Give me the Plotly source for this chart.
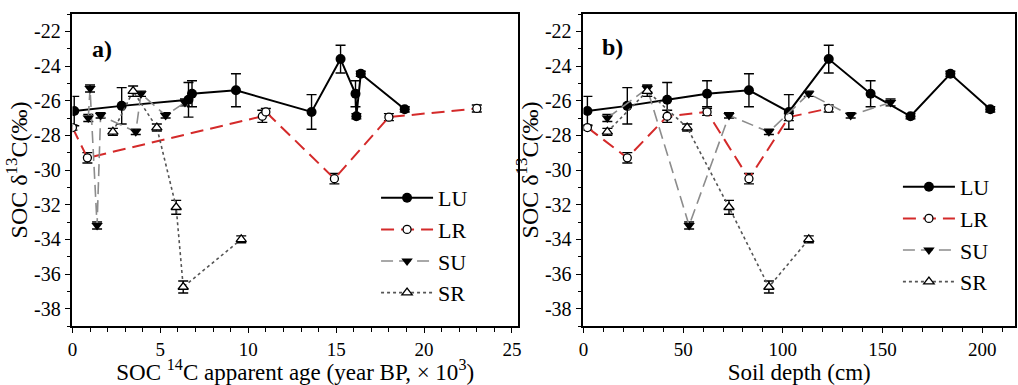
import plotly.graph_objects as go

# ---------------- data ----------------
series_names = ["LU", "LR", "SU", "SR"]

LU_age = [0.1, 2.8, 6.6, 6.8, 9.3, 13.6, 15.25, 16.1, 16.15, 16.4, 18.9]
LU_depth = [2, 22, 42, 62, 83, 103, 123, 144, 164, 184, 204]
LU_d13C = [-26.6, -26.3, -25.95, -25.6, -25.4, -26.65, -23.6, -25.6, -26.9, -24.45, -26.5]
LU_err = [0.85, 1.05, 1.0, 0.75, 0.95, 1.0, 0.8, 0.75, 0.15, 0.15, 0.15]

LR_age = [0.0, 0.85, 10.8, 11.0, 14.9, 18.0, 23.0]
LR_depth = [2, 22, 42, 62, 83, 103, 123]
LR_d13C = [-27.55, -29.3, -26.9, -26.65, -30.5, -26.95, -26.45]
LR_err = [0.15, 0.3, 0.35, 0.2, 0.3, 0.2, 0.2]

SU_age = [0.9, 1.0, 1.4, 1.6, 3.6, 3.9, 5.3, 6.4]
SU_depth = [12, 32, 53, 73, 93, 113, 134, 154]
SU_d13C = [-27.0, -25.3, -33.2, -26.85, -27.8, -25.6, -26.85, -26.1]
SU_err = [0.2, 0.2, 0.2, 0.15, 0.15, 0.15, 0.15, 0.2]

SR_age = [2.3, 3.45, 4.8, 5.9, 6.3, 9.6]
SR_depth = [12, 32, 52, 73, 93, 113]
SR_d13C = [-27.8, -25.45, -27.55, -32.15, -36.75, -34.0]
SR_err = [0.2, 0.3, 0.2, 0.4, 0.35, 0.2]

y_ticks = [-22, -24, -26, -28, -30, -32, -34, -36, -38]
y_ticklabels = ["-22", "-24", "-26", "-28", "-30", "-32", "-34", "-36", "-38"]
x_ticks_age = [0, 5, 10, 15, 20, 25]
x_ticks_depth = [0, 50, 100, 150, 200]

# ---------------- styles ----------------
SERIF = "Liberation Serif"
styles = {
    "LU": dict(line=dict(color="black", width=2, dash="solid"),
               marker=dict(symbol="circle", size=10, color="black")),
    "LR": dict(line=dict(color="#d42a2a", width=2, dash="13px,7px"),
               marker=dict(symbol="circle", size=8, color="white",
                           line=dict(color="black", width=1.3))),
    "SU": dict(line=dict(color="#8c8c8c", width=1.6, dash="12px,6px"),
               marker=dict(symbol="triangle-down", size=10, color="black")),
    "SR": dict(line=dict(color="#555555", width=1.6, dash="dot"),
               marker=dict(symbol="triangle-up", size=9, color="white",
                           line=dict(color="black", width=1.3))),
}

data_age = {"LU": (LU_age, LU_d13C, LU_err), "LR": (LR_age, LR_d13C, LR_err),
            "SU": (SU_age, SU_d13C, SU_err), "SR": (SR_age, SR_d13C, SR_err)}
data_depth = {"LU": (LU_depth, LU_d13C, LU_err), "LR": (LR_depth, LR_d13C, LR_err),
              "SU": (SU_depth, SU_d13C, SU_err), "SR": (SR_depth, SR_d13C, SR_err)}

fig = go.Figure()

for panel, data, xa, ya, leg in [("a", data_age, "x", "y", "legend"),
                                 ("b", data_depth, "x2", "y2", "legend2")]:
    for name in series_names:
        xs, ys, es = data[name]
        st = styles[name]
        fig.add_trace(go.Scatter(
            x=xs, y=ys, name=name, mode="lines+markers",
            line=st["line"], marker=st["marker"],
            error_y=dict(type="data", array=es, color="black", thickness=1.4, width=5),
            xaxis=xa, yaxis=ya, legend=leg, legendgroup=panel + name,
            showlegend=True,
        ))

axis_common = dict(
    showline=True, linecolor="black", linewidth=1.6, mirror=True,
    ticks="outside", ticklen=6, tickwidth=1.4, tickcolor="black",
    showgrid=False, zeroline=False,
    tickfont=dict(family=SERIF, size=20, color="black"),
)

ydom = [1 - 326 / 385, 1 - 14 / 385]
y_common = dict(axis_common, range=[-39, -21], tickvals=y_ticks, ticktext=y_ticklabels,
                minor=dict(dtick=1, ticks="outside", ticklen=4, tickwidth=1.2, tickcolor="black"),
                domain=ydom,
                title=dict(text="SOC δ<sup>13</sup>C(‰)", font=dict(family=SERIF, size=24, color="black"),
                           standoff=0))

x_common = dict(axis_common, tickfont=dict(family=SERIF, size=19, color="black"), ticklen=5)

legend_common = dict(xanchor="left", yanchor="top",
                     font=dict(family=SERIF, size=22, color="black"),
                     bgcolor="rgba(0,0,0,0)", itemwidth=52, tracegroupgap=0)

fig.update_layout(
    width=1018, height=385,
    margin=dict(l=0, r=0, t=0, b=0),
    paper_bgcolor="white", plot_bgcolor="white",
    xaxis=dict(x_common, domain=[68 / 1018, 517 / 1018], range=[0, 25.34],
               tickvals=x_ticks_age,
               minor=dict(dtick=1, ticks="outside", ticklen=4, tickwidth=1.2, tickcolor="black"),
               title=dict(text="SOC <sup>14</sup>C apparent age (year BP, × 10<sup>3</sup>)",
                          font=dict(family=SERIF, size=23, color="black"), standoff=2),
               anchor="y"),
    yaxis=dict(y_common, anchor="x"),
    xaxis2=dict(x_common, domain=[583 / 1018, 1.0], range=[0, 216.4],
                tickvals=x_ticks_depth,
                minor=dict(dtick=10, ticks="outside", ticklen=4, tickwidth=1.2, tickcolor="black"),
                title=dict(text="Soil depth (cm)", font=dict(family=SERIF, size=23, color="black"),
                           standoff=2),
                anchor="y2"),
    yaxis2=dict(y_common, anchor="x2"),
    legend=dict(legend_common, x=374 / 1018, y=1 - 177 / 385),
    legend2=dict(legend_common, x=900 / 1018, y=1 - 166 / 385),
    annotations=[
        dict(text="<b>a)</b>", x=98 / 1018, y=1 - 49 / 385, xref="paper", yref="paper",
             xanchor="center", yanchor="middle",
             showarrow=False, font=dict(family=SERIF, size=24, color="black")),
        dict(text="<b>b)</b>", x=612 / 1018, y=1 - 47 / 385, xref="paper", yref="paper",
             xanchor="center", yanchor="middle",
             showarrow=False, font=dict(family=SERIF, size=24, color="black")),
    ],
)

fig.write_html("out.html")
